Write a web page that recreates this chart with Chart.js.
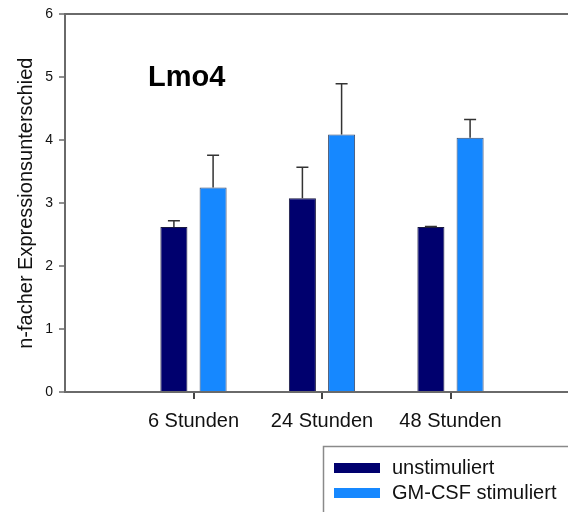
<!DOCTYPE html>
<html>
<head>
<meta charset="utf-8">
<script src="https://cdn.jsdelivr.net/npm/chart.js@4"></script>
<style>
  html, body { margin: 0; padding: 0; background: #fff; overflow: hidden; }
  canvas { display: block; }
</style>
</head>
<body>
<canvas id="bar-chart" width="591" height="512"></canvas>
<script>
// Chart data
const categories = ['6 Stunden', '24 Stunden', '48 Stunden'];
const unstimuliert = [2.62, 3.08, 2.62];
const unstimuliertErr = [0.10, 0.49, 0.01];
const gmcsf = [3.25, 4.09, 4.04];
const gmcsfErr = [0.51, 0.81, 0.29];
const yTicks = [0, 1, 2, 3, 4, 5, 6];

// empty slots on both ends so the groups sit at positions 1..3 of 0..4
const labels = [''].concat(categories, ['']);
const pad = arr => [null].concat(arr, [null]);
const errs = [pad(unstimuliertErr), pad(gmcsfErr)];

const axisColor = '#6a6a6a';
const font = 'Liberation Sans, Arial, sans-serif';

// upper error bars only
const errorBars = {
  id: 'errorBars',
  afterDatasetsDraw(chart) {
    const ctx = chart.ctx;
    const y = chart.scales.y;
    ctx.save();
    ctx.strokeStyle = '#333';
    ctx.lineWidth = 1.5;
    chart.data.datasets.forEach((ds, d) => {
      chart.getDatasetMeta(d).data.forEach((bar, i) => {
        if (ds.data[i] == null) return;
        const top = y.getPixelForValue(ds.data[i] + errs[d][i]);
        ctx.beginPath();
        ctx.moveTo(bar.x, bar.y);
        ctx.lineTo(bar.x, top);
        ctx.moveTo(bar.x - 6, top);
        ctx.lineTo(bar.x + 6, top);
        ctx.stroke();
      });
    });
    ctx.restore();
  }
};

// category ticks, gene name and boxed legend
const extras = {
  id: 'extras',
  afterDraw(chart) {
    const ctx = chart.ctx;
    const x = chart.scales.x;
    const yb = chart.chartArea.bottom;
    ctx.save();
    ctx.fillStyle = '#444';
    categories.forEach((c, i) => {
      const px = Math.round(x.getPixelForValue(i + 1));
      ctx.fillRect(px - 1, yb + 1, 2, 6);
    });

    ctx.fillStyle = '#000';
    ctx.font = 'bold 29px ' + font;
    ctx.textBaseline = 'alphabetic';
    ctx.fillText('Lmo4', 148, 86);

    ctx.strokeStyle = '#8a8a8a';
    ctx.lineWidth = 1.5;
    ctx.strokeRect(323.5, 446.5, 300, 100);
    ctx.font = '20px ' + font;
    ctx.textBaseline = 'middle';
    chart.data.datasets.forEach((ds, d) => {
      const cy = 468 + d * 25;
      ctx.fillStyle = ds.backgroundColor;
      ctx.fillRect(334, cy - 5, 46, 10);
      ctx.fillStyle = '#111';
      ctx.fillText(ds.label, 392, cy);
    });
    ctx.restore();
  }
};

const config = {
  type: 'bar',
  data: {
    labels: labels,
    datasets: [{
      label: 'unstimuliert',
      data: pad(unstimuliert),
      backgroundColor: '#00006e',
      borderColor: '#1a1a40',
      borderWidth: 1,
      categoryPercentage: 0.61,
      barPercentage: 0.69
    }, {
      label: 'GM-CSF stimuliert',
      data: pad(gmcsf),
      backgroundColor: '#1688ff',
      borderColor: '#3a4a6a',
      borderWidth: 1,
      categoryPercentage: 0.61,
      barPercentage: 0.69
    }]
  },
  options: {
    responsive: false,
    animation: false,
    layout: { padding: { top: 11, right: 0, left: 0, bottom: 0 } },
    plugins: {
      legend: { display: false },
      tooltip: { enabled: false }
    },
    scales: {
      x: {
        offset: false,
        border: { color: axisColor, width: 2 },
        grid: {
          offset: false,
          drawOnChartArea: false,
          tickLength: 5,
          tickColor: 'transparent'
        },
        ticks: {
          color: '#111',
          font: { family: font, size: 20 },
          padding: 12,
          maxRotation: 0,
          autoSkip: false
        },
        afterFit: s => { s.height = 120; }
      },
      y: {
        min: 0,
        max: 6,
        afterBuildTicks: s => { s.ticks = yTicks.map(v => ({ value: v })); },
        border: { color: axisColor, width: 2 },
        grid: {
          tickLength: 6,
          tickWidth: 1.5,
          tickColor: axisColor,
          lineWidth: 2,
          color: c => (c.tick && c.tick.value === 6 ? axisColor : 'transparent')
        },
        ticks: {
          color: '#111',
          font: { family: font, size: 14 },
          padding: 6
        },
        title: {
          display: true,
          text: 'n-facher Expressionsunterschied',
          color: '#111',
          font: { family: font, size: 20 },
          padding: { top: 14, bottom: 0 }
        },
        afterFit: s => { s.width = 65; }
      }
    }
  },
  plugins: [errorBars, extras]
};

var myChart = new Chart(document.getElementById('bar-chart'), config);
</script>
</body>
</html>
